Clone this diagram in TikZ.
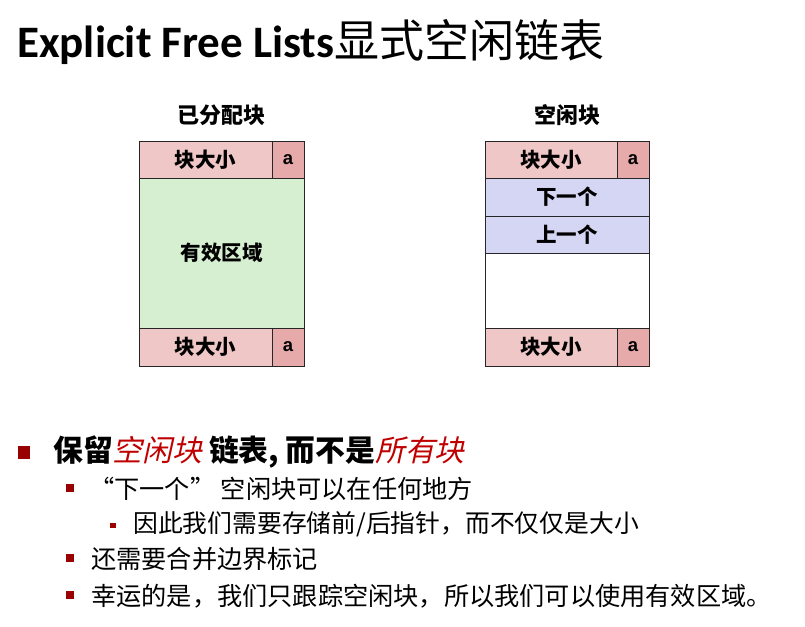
\documentclass[tikz,border=0pt]{standalone}
\usepackage{fontspec}
\setmainfont{Carlito}
\newfontfamily\cjk{Noto Sans CJK SC}
\newfontfamily\cjkslant{Noto Sans CJK SC}[FakeSlant=0.22]
\newfontfamily\arialfont{Liberation Sans}
\definecolor{hdrpink}{HTML}{F0C7C7}
\definecolor{flagpink}{HTML}{E6AAAA}
\definecolor{payload}{HTML}{D6EFD1}
\definecolor{ptrblue}{HTML}{D5D6F3}
\definecolor{bulletred}{HTML}{990000}
\definecolor{emred}{HTML}{C00000}
\tikzset{
  cell/.style={draw=black!85, line width=1pt, rectangle, inner sep=0pt, anchor=center,
    font=\cjk\bfseries\fontsize{20.5}{20.5}\selectfont},
  flag/.style={cell, fill=flagpink, font=\arialfont\bfseries\fontsize{18.5}{18.5}\selectfont},
  blocktitle/.style={font=\cjk\bfseries\fontsize{22}{22}\selectfont, inner sep=0pt},
  lvlone/.style={anchor=west, inner sep=0pt, font=\cjk\bfseries\fontsize{29.8}{29.8}\selectfont},
  lvltwo/.style={anchor=west, inner sep=0pt, font=\cjk\fontsize{25.2}{25.2}\selectfont},
  lvlthree/.style={anchor=west, inner sep=0pt, font=\cjk\fontsize{24.8}{24.8}\selectfont},
  sq/.style={fill=bulletred, draw=none, inner sep=0pt, rectangle}
}
\newcommand{\redslant}[1]{{\color{emred}\cjkslant\mdseries #1}}
\begin{document}
\begin{tikzpicture}[x=1pt, y=-1pt]
  \useasboundingbox (0,0) rectangle (805,626);

  % heading
  \node[anchor=base west, inner sep=0pt] (title) at (17,58)
    {\fontsize{45}{45}\selectfont\bfseries Explicit Free Lists{\cjk\mdseries 显式空闲链表}};

  % allocated block
  \node[blocktitle] (ltitle) at (221.5,115) {已分配块};
  \node[cell, fill=hdrpink, minimum width=133pt, minimum height=37pt] (lhdr) at (205.5,159.5) {块大小};
  \node[flag, minimum width=32pt, minimum height=37pt] (lhdra) at (288,159.5) {a};
  \node[cell, fill=payload, minimum width=165pt, minimum height=150pt] (lpay) at (221.5,253) {有效区域};
  \node[cell, fill=hdrpink, minimum width=133pt, minimum height=38pt] (lftr) at (205.5,347) {块大小};
  \node[flag, minimum width=32pt, minimum height=38pt] (lftra) at (288,347) {a};

  % free block
  \node[blocktitle] (rtitle) at (567,115) {空闲块};
  \node[cell, fill=hdrpink, minimum width=132pt, minimum height=37pt] (rhdr) at (551,159.5) {块大小};
  \node[flag, minimum width=32pt, minimum height=37pt] (rhdra) at (633,159.5) {a};
  \node[cell, fill=ptrblue, minimum width=164pt, minimum height=38pt] (rnext) at (567,197) {下一个};
  \node[cell, fill=ptrblue, minimum width=164pt, minimum height=37pt] (rprev) at (567,234.5) {上一个};
  \node[cell, fill=white, minimum width=164pt, minimum height=75pt] (rfree) at (567,290.5) {};
  \node[cell, fill=hdrpink, minimum width=132pt, minimum height=38pt] (rftr) at (551,347) {块大小};
  \node[flag, minimum width=32pt, minimum height=38pt] (rftra) at (633,347) {a};

  % bullet list
  \node[sq, minimum size=12.5pt] (b1) at (24,452.5) {};
  \node[lvlone] (t1) at (53,452) {保留\redslant{空闲块} 链表, 而不是\redslant{所有块}};

  \node[sq, minimum size=8pt] (b2) at (70,488) {};
  \node[lvltwo] (t2) at (89,489) {“下一个” 空闲块可以在任何地方};

  \node[sq, minimum size=5.5pt] (b3) at (113,525.5) {};
  \node[lvlthree] (t3) at (133,524) {因此我们需要存储前/后指针，而不仅仅是大小};

  \node[sq, minimum size=8pt] (b4) at (70,558) {};
  \node[lvltwo] (t4) at (91,559) {还需要合并边界标记};

  \node[sq, minimum size=8pt] (b5) at (70,595) {};
  \node[lvltwo] (t5) at (91,596) {幸运的是，我们只跟踪空闲块，所以我们可以使用有效区域。};
\end{tikzpicture}
\end{document}
